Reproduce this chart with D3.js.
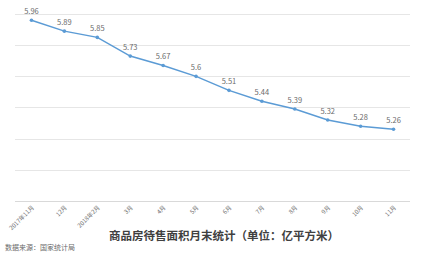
<!DOCTYPE html>
<html>
<head>
<meta charset="utf-8">
<script src="https://cdn.jsdelivr.net/npm/d3@7"></script>
<style>
  body { margin: 0; background: #fff; }
  svg { display: block; font-family: "Noto Sans CJK SC", "Noto Sans", sans-serif; }
  .grid line { stroke: #e6e6e6; stroke-width: 1; }
  .val { fill: #6b6b6b; font-size: 7.5px; text-anchor: middle; }
  .xlab { fill: #6b6b6b; font-size: 6px; }
</style>
</head>
<body>
<svg id="chart"></svg>
<script>
const months = ["2017年11月", "12月", "2018年2月", "3月", "4月", "5月", "6月", "7月", "8月", "9月", "10月", "11月"];
const area = [5.96, 5.89, 5.85, 5.73, 5.67, 5.6, 5.51, 5.44, 5.39, 5.32, 5.28, 5.26];
const gridTicks = [4.8, 5.0, 5.2, 5.4, 5.6, 5.8, 6.0];
const title = "商品房待售面积月末统计（单位：亿平方米）";
const source = "数据来源：国家统计局";

const width = 421, height = 253;
const svg = d3.select("#chart").attr("width", width).attr("height", height);

const x = d3.scaleBand().domain(months).range([15, 410]);
const y = d3.scaleLinear().domain([4.8, 6.0]).range([201, 14]);

// gridlines
svg.append("g")
  .attr("class", "grid")
  .selectAll("line")
  .data(gridTicks)
  .enter()
  .append("line")
  .attr("x1", 15)
  .attr("x2", 410)
  .attr("y1", (d) => Math.round(y(d)) + 0.5)
  .attr("y2", (d) => Math.round(y(d)) + 0.5)
  .style("stroke", (d) => (d === 4.8 ? "#d9d9d9" : null));

const cx = (d) => x(d) + x.bandwidth() / 2;

const line = d3.line()
  .x((d, i) => cx(months[i]))
  .y((d) => y(d));

svg.append("path")
  .datum(area)
  .attr("d", line)
  .attr("fill", "none")
  .attr("stroke", "#5b9bd5")
  .attr("stroke-width", 1.5);

svg.append("g")
  .selectAll("circle")
  .data(area)
  .enter()
  .append("circle")
  .attr("cx", (d, i) => cx(months[i]))
  .attr("cy", (d) => y(d))
  .attr("r", 1.8)
  .attr("fill", "#5b9bd5");

svg.append("g")
  .selectAll("text")
  .data(area)
  .enter()
  .append("text")
  .attr("class", "val")
  .attr("x", (d, i) => cx(months[i]))
  .attr("y", (d) => y(d) - 6)
  .text((d) => d);

// rotated month labels
svg.append("g")
  .selectAll("text")
  .data(months)
  .enter()
  .append("text")
  .attr("class", "xlab")
  .attr("text-anchor", "end")
  .attr("transform", (d) => `translate(${cx(d) + 3},${208}) rotate(-45)`)
  .text((d) => d);

svg.append("text")
  .attr("x", 224)
  .attr("y", 240)
  .attr("text-anchor", "middle")
  .attr("fill", "#404040")
  .style("font-size", "11.5px")
  .style("font-weight", "bold")
  .text(title);

svg.append("text")
  .attr("x", 5)
  .attr("y", 250)
  .attr("fill", "#6b6b6b")
  .style("font-size", "7px")
  .text(source);
</script>
</body>
</html>
